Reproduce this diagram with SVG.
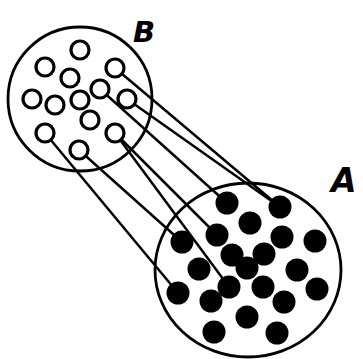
<svg xmlns="http://www.w3.org/2000/svg" width="363" height="359" viewBox="0 0 363 359">
<style>
.set{fill:none;stroke:#000;stroke-width:2.8}
.o{fill:#fff;stroke:#000;stroke-width:3.2}
.f{fill:#000}
.ln{stroke:#000;stroke-width:2.5;fill:none}
.lbl{font-family:"DejaVu Sans","Liberation Sans",sans-serif;font-weight:bold;font-style:italic;fill:#000}
</style>
<rect width="363" height="359" fill="#fff"/>
<g id="setA">
<ellipse class="set" cx="248" cy="270" rx="93" ry="87"/>
<circle class="f" cx="227" cy="203" r="11.5"/>
<circle class="f" cx="280" cy="207" r="11.5"/>
<circle class="f" cx="250" cy="223" r="11.5"/>
<circle class="f" cx="182" cy="242" r="11.5"/>
<circle class="f" cx="217" cy="235" r="11.5"/>
<circle class="f" cx="282" cy="237" r="11.5"/>
<circle class="f" cx="315" cy="241" r="11.5"/>
<circle class="f" cx="232" cy="255" r="11.5"/>
<circle class="f" cx="264" cy="254" r="11.5"/>
<circle class="f" cx="247" cy="268" r="11.5"/>
<circle class="f" cx="199" cy="269" r="11.5"/>
<circle class="f" cx="297" cy="270" r="11.5"/>
<circle class="f" cx="229" cy="287" r="11.5"/>
<circle class="f" cx="263" cy="287" r="11.5"/>
<circle class="f" cx="178" cy="293" r="11.5"/>
<circle class="f" cx="211" cy="301" r="11.5"/>
<circle class="f" cx="317" cy="289" r="11.5"/>
<circle class="f" cx="284" cy="302" r="11.5"/>
<circle class="f" cx="247" cy="317" r="11.5"/>
<circle class="f" cx="214" cy="332" r="11.5"/>
<circle class="f" cx="277" cy="333" r="11.5"/>
<text class="lbl" x="331" y="192" font-size="33">A</text>
</g>
<g id="connectors">
<line class="ln" x1="115" y1="68" x2="280" y2="207"/>
<line class="ln" x1="127" y1="99" x2="280" y2="207"/>
<line class="ln" x1="100" y1="89" x2="227" y2="203"/>
<line class="ln" x1="79" y1="150" x2="182" y2="242"/>
<line class="ln" x1="45" y1="133" x2="178" y2="293"/>
<line class="ln" x1="115" y1="133" x2="217" y2="235"/>
<line class="ln" x1="115" y1="133" x2="229" y2="287"/>
</g>
<g id="setB">
<circle class="set" cx="80" cy="99" r="72"/>
<circle class="o" cx="80" cy="50" r="9"/>
<circle class="o" cx="45" cy="67" r="9"/>
<circle class="o" cx="70" cy="78" r="9"/>
<circle class="o" cx="115" cy="68" r="9"/>
<circle class="o" cx="32" cy="99" r="9"/>
<circle class="o" cx="55" cy="105" r="9"/>
<circle class="o" cx="80" cy="100" r="9"/>
<circle class="o" cx="100" cy="89" r="9"/>
<circle class="o" cx="127" cy="99" r="9"/>
<circle class="o" cx="90" cy="120" r="9"/>
<circle class="o" cx="45" cy="133" r="9"/>
<circle class="o" cx="115" cy="133" r="9"/>
<circle class="o" cx="79" cy="150" r="9"/>
<text class="lbl" x="133" y="42" font-size="29">B</text>
</g>
</svg>
